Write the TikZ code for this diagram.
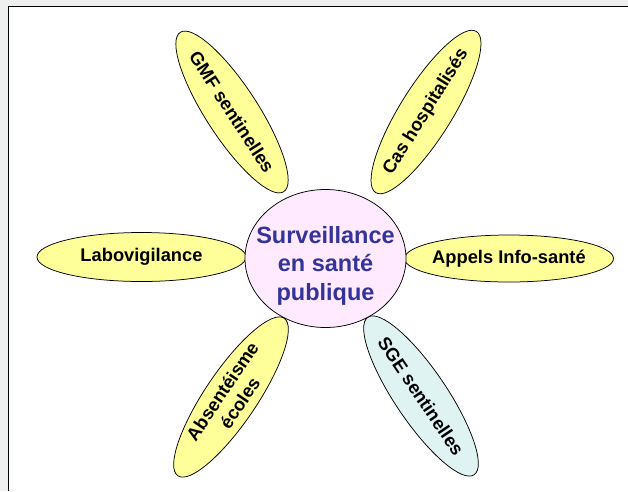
\documentclass[tikz,border=0pt]{standalone}
\usepackage{fontspec}
\setmainfont{Liberation Sans}
\usetikzlibrary{shapes.geometric}
\definecolor{bggray}{HTML}{EEF0EF}
\definecolor{petalyellow}{HTML}{FFFF99}
\definecolor{centerpink}{HTML}{FFEAFF}
\definecolor{sgecyan}{HTML}{E0F3F3}
\definecolor{centertext}{HTML}{333399}
\tikzset{
  petal/.style={ellipse, draw=black, line width=0.75pt, fill=petalyellow, inner sep=0pt,
    minimum width=190pt, minimum height=52pt},
  flatpetal/.style={petal, minimum width=209pt, minimum height=49pt},
  petaltext/.style={inner sep=0pt, font=\fontsize{18.3}{21}\selectfont\bfseries, align=center, text=black},
  hub/.style={ellipse, draw=black, line width=0.75pt, fill=centerpink, inner sep=0pt,
    minimum width=161pt, minimum height=138pt},
  hubtext/.style={inner sep=0pt, font=\fontsize{23.5}{28.5}\selectfont\bfseries, align=center, text=centertext}
}
\begin{document}
\begin{tikzpicture}[x=1pt,y=-1pt]
\useasboundingbox (0,0) rectangle (628,491);
\fill[bggray] (0,0) rectangle (628,491);
\fill[white] (8.5,6.5) rectangle (628,491);
\draw[line width=1pt] (8.5,491) -- (8.5,6.5) -- (628,6.5);

% petals
\node[petal, rotate=-57] (gmf) at (232,112) {};
\node[petaltext, rotate=-57] (gmft) at (gmf.center) {GMF sentinelles};

\node[petal, rotate=58] (cas) at (426,112) {};
\node[petaltext, rotate=58] (cast) at (cas.center) {Cas hospitalisés};

\node[flatpetal] (labo) at (141.5,257) {};
\node[petaltext] (labot) at (labo.center) {Labovigilance};

\node[flatpetal, minimum height=47pt] (appels) at (509,258.5) {};
\node[petaltext] (appelst) at (appels.center) {Appels Info-santé};

\node[petal, rotate=56] (abs) at (231,397) {};
\node[petaltext, rotate=56] (abst) at (abs.center) {Absentéisme\\écoles};

\node[petal, fill=sgecyan, rotate=-56] (sge) at (421,396) {};
\node[petaltext, rotate=-56] (sget) at (sge.center) {SGE sentinelles};

% center
\node[hub] (hub) at (325.5,258.5) {};
\node[hubtext] (hubt) at ([yshift=-7pt]hub.center) {Surveillance\\en santé\\publique};
\end{tikzpicture}
\end{document}
